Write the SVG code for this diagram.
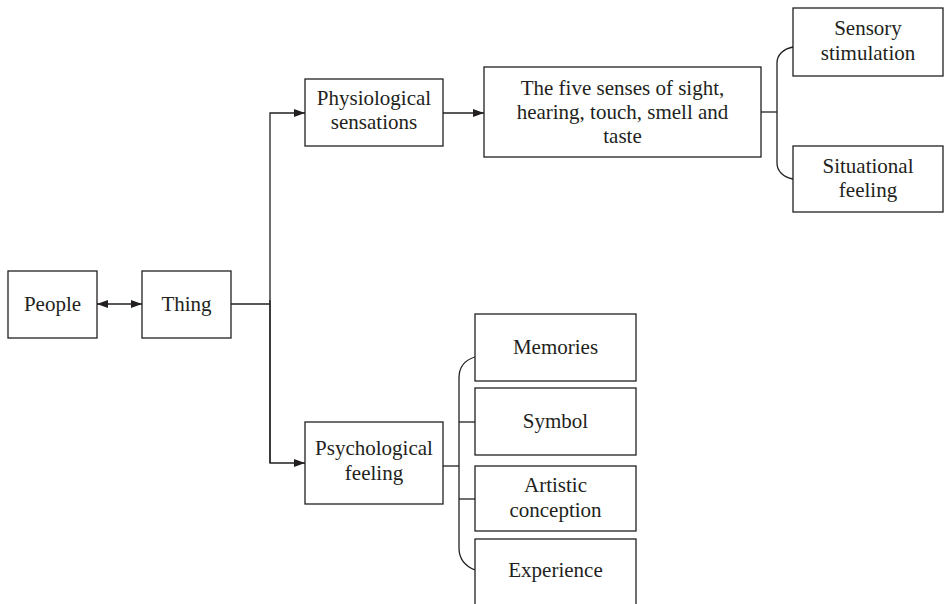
<svg xmlns="http://www.w3.org/2000/svg" width="945" height="604" viewBox="0 0 945 604">
  <style>
    .box { fill: #ffffff; stroke: #231f20; stroke-width: 1.3; }
    .lbl { font-family: "Liberation Serif", "Times New Roman", serif; font-size: 21px; fill: #231f20; text-anchor: middle; }
    .wire { fill: none; stroke: #231f20; stroke-width: 1.3; }
  </style>
  <defs>
    <marker id="arrow" viewBox="0 0 11 8" refX="11" refY="4" markerWidth="11" markerHeight="8" markerUnits="userSpaceOnUse" orient="auto-start-reverse">
      <path d="M0,0 L11,4 L0,8 Z" fill="#231f20"/>
    </marker>
  </defs>

  <rect width="945" height="604" fill="#ffffff"/>

  <!-- connectors -->
  <g id="connectors">
    <line class="wire" x1="97" y1="304" x2="142" y2="304" marker-start="url(#arrow)" marker-end="url(#arrow)"/>
    <line class="wire" x1="231" y1="304" x2="270" y2="304"/>
    <polyline class="wire" points="270,463 270,113 305,113" marker-end="url(#arrow)"/>
    <polyline class="wire" points="270,300 270,463 305,463" marker-end="url(#arrow)"/>
    <line class="wire" x1="443" y1="113" x2="484" y2="113" marker-end="url(#arrow)"/>
    <!-- brace to the sensory outcomes -->
    <line class="wire" x1="761" y1="112" x2="777" y2="112"/>
    <path class="wire" d="M793,47 C783,49 777,55 777,63 L777,163 C777,171 783,177 793,179"/>
    <!-- brace to the psychological outcomes -->
    <line class="wire" x1="443" y1="466" x2="459" y2="466"/>
    <path class="wire" d="M475,357 C465,360 459,367 459,378 L459,548 C459,559 465,566 475,570"/>
    <line class="wire" x1="459" y1="422" x2="475" y2="422"/>
    <line class="wire" x1="459" y1="499" x2="475" y2="499"/>
  </g>

  <g id="people">
    <rect class="box" x="8" y="271" width="89" height="67"/>
    <text class="lbl" x="52.5" y="311">People</text>
  </g>
  <g id="thing">
    <rect class="box" x="142" y="271" width="89" height="67"/>
    <text class="lbl" x="186.5" y="311">Thing</text>
  </g>
  <g id="physiological">
    <rect class="box" x="305" y="79" width="138" height="67"/>
    <text class="lbl" x="374" y="105">Physiological</text>
    <text class="lbl" x="374" y="129">sensations</text>
  </g>
  <g id="five-senses">
    <rect class="box" x="484" y="67" width="277" height="90"/>
    <text class="lbl" x="622.5" y="95">The five senses of sight,</text>
    <text class="lbl" x="622.5" y="119">hearing, touch, smell and</text>
    <text class="lbl" x="622.5" y="143">taste</text>
  </g>
  <g id="sensory">
    <rect class="box" x="793" y="8" width="150" height="68"/>
    <text class="lbl" x="868" y="35">Sensory</text>
    <text class="lbl" x="868" y="60">stimulation</text>
  </g>
  <g id="situational">
    <rect class="box" x="793" y="146" width="150" height="66"/>
    <text class="lbl" x="868" y="173">Situational</text>
    <text class="lbl" x="868" y="197">feeling</text>
  </g>
  <g id="psychological">
    <rect class="box" x="305" y="422" width="138" height="82"/>
    <text class="lbl" x="374" y="455">Psychological</text>
    <text class="lbl" x="374" y="480">feeling</text>
  </g>
  <g id="memories">
    <rect class="box" x="475" y="314" width="161" height="67"/>
    <text class="lbl" x="555.5" y="354">Memories</text>
  </g>
  <g id="symbol">
    <rect class="box" x="475" y="388" width="161" height="67"/>
    <text class="lbl" x="555.5" y="428">Symbol</text>
  </g>
  <g id="artistic">
    <rect class="box" x="475" y="466" width="161" height="65"/>
    <text class="lbl" x="555.5" y="492">Artistic</text>
    <text class="lbl" x="555.5" y="517">conception</text>
  </g>
  <g id="experience">
    <rect class="box" x="475" y="539" width="161" height="75"/>
    <text class="lbl" x="555.5" y="577">Experience</text>
  </g>
</svg>
